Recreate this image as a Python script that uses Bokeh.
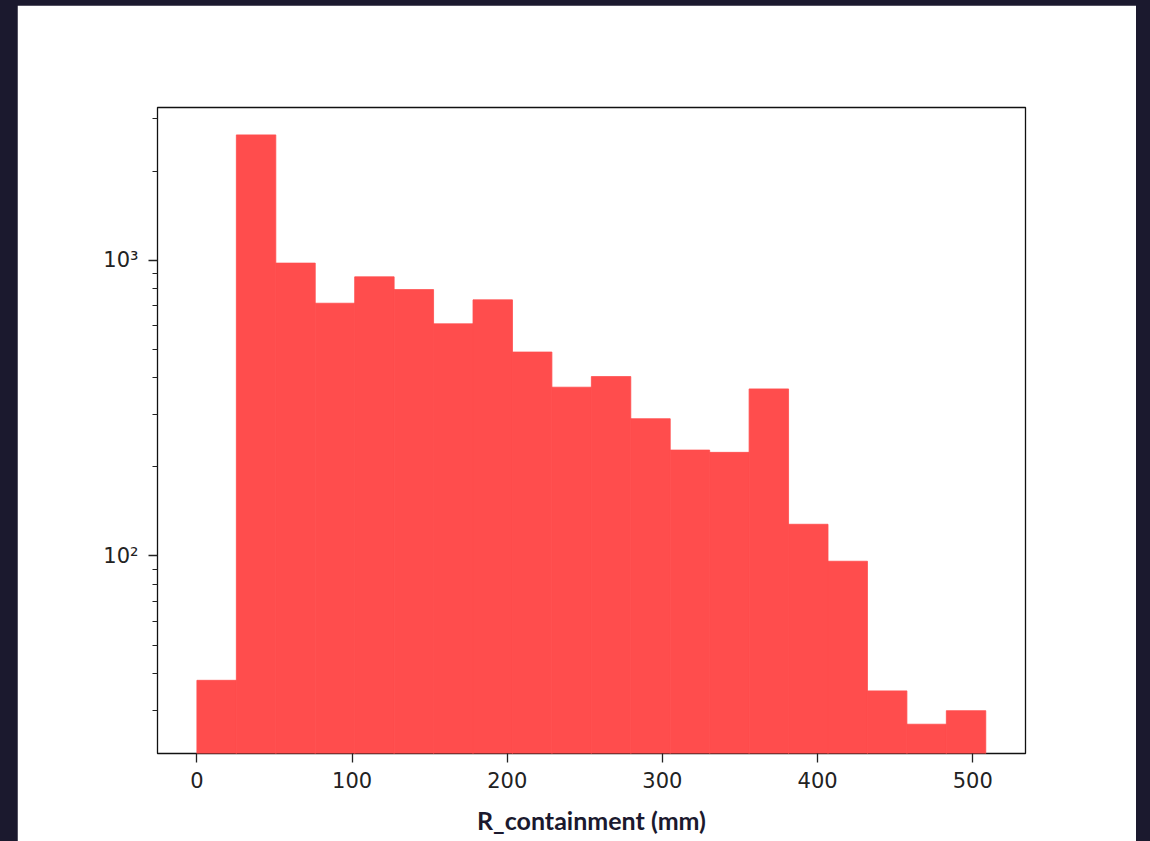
import numpy as np
from bokeh.plotting import figure
from bokeh.models import ColumnDataSource, FixedTicker, Range1d, Column
from bokeh.embed import file_html
from bokeh.resources import INLINE

# Histogram of containment radius: 20 equal-width bins from 0 to 508.4 mm
bin_edges = np.linspace(0.0, 508.4, 21)
counts = [38, 2650, 977, 715, 878, 795, 609, 734, 489, 372,
          404, 291, 228, 224, 367, 128, 96, 35, 27, 30]

x_ticks = [0, 100, 200, 300, 400, 500]
y_major = [100, 1000]
y_minor = [30, 40, 50, 60, 70, 80, 90,
           200, 300, 400, 500, 600, 700, 800, 900,
           2000, 3000]
y_labels = {100: "10²", 1000: "10³"}

src = ColumnDataSource(dict(
    left=bin_edges[:-1],
    right=bin_edges[1:],
    top=counts,
    bottom=[1] * len(counts),
))

p = figure(
    output_backend="svg", toolbar_location=None,
    y_axis_type="log",
    frame_width=868, frame_height=646,
    min_border_left=140, min_border_right=111,
    min_border_top=102, min_border_bottom=88,
    x_range=Range1d(-25.4, 534.0),
    y_range=Range1d(21.5, 3280),
    background_fill_color="white", border_fill_color="white",
)

p.quad(left="left", right="right", top="top", bottom="bottom", source=src,
       fill_color="#ff4d4d", line_color="#ff4d4d", line_width=0.8)

p.grid.visible = False
p.outline_line_color = "#111111"
p.outline_line_width = 1.3

for ax in (p.xaxis[0], p.yaxis[0]):
    ax.axis_line_color = None
    ax.major_tick_line_color = "#222222"
    ax.minor_tick_line_color = "#222222"
    ax.major_tick_line_width = 1.3
    ax.minor_tick_line_width = 1.1
    ax.major_tick_in = 0
    ax.major_tick_out = 9
    ax.minor_tick_in = 0
    ax.major_label_text_font = "DejaVu Sans"
    ax.major_label_text_font_size = "21px"
    ax.major_label_text_color = "#222222"

p.xaxis.ticker = FixedTicker(ticks=x_ticks)
p.xaxis.minor_tick_out = 0
p.xaxis.major_label_standoff = 9
p.xaxis.axis_label = "R_containment (mm)"
p.xaxis.axis_label_text_font = "Lato"
p.xaxis.axis_label_text_font_style = "bold"
p.xaxis.axis_label_text_font_size = "25px"
p.xaxis.axis_label_text_color = "#1b192e"
p.xaxis.axis_label_standoff = 14

p.yaxis.ticker = FixedTicker(ticks=y_major, minor_ticks=y_minor)
p.yaxis.minor_tick_out = 5
p.yaxis.major_label_overrides = y_labels
p.yaxis.major_label_standoff = 10

p.margin = (5, 14, 0, 17)
page = Column(children=[p], styles={"background-color": "#1b192e"},
              width=1150, height=841)

open("out.html", "w").write(file_html(page, INLINE))
